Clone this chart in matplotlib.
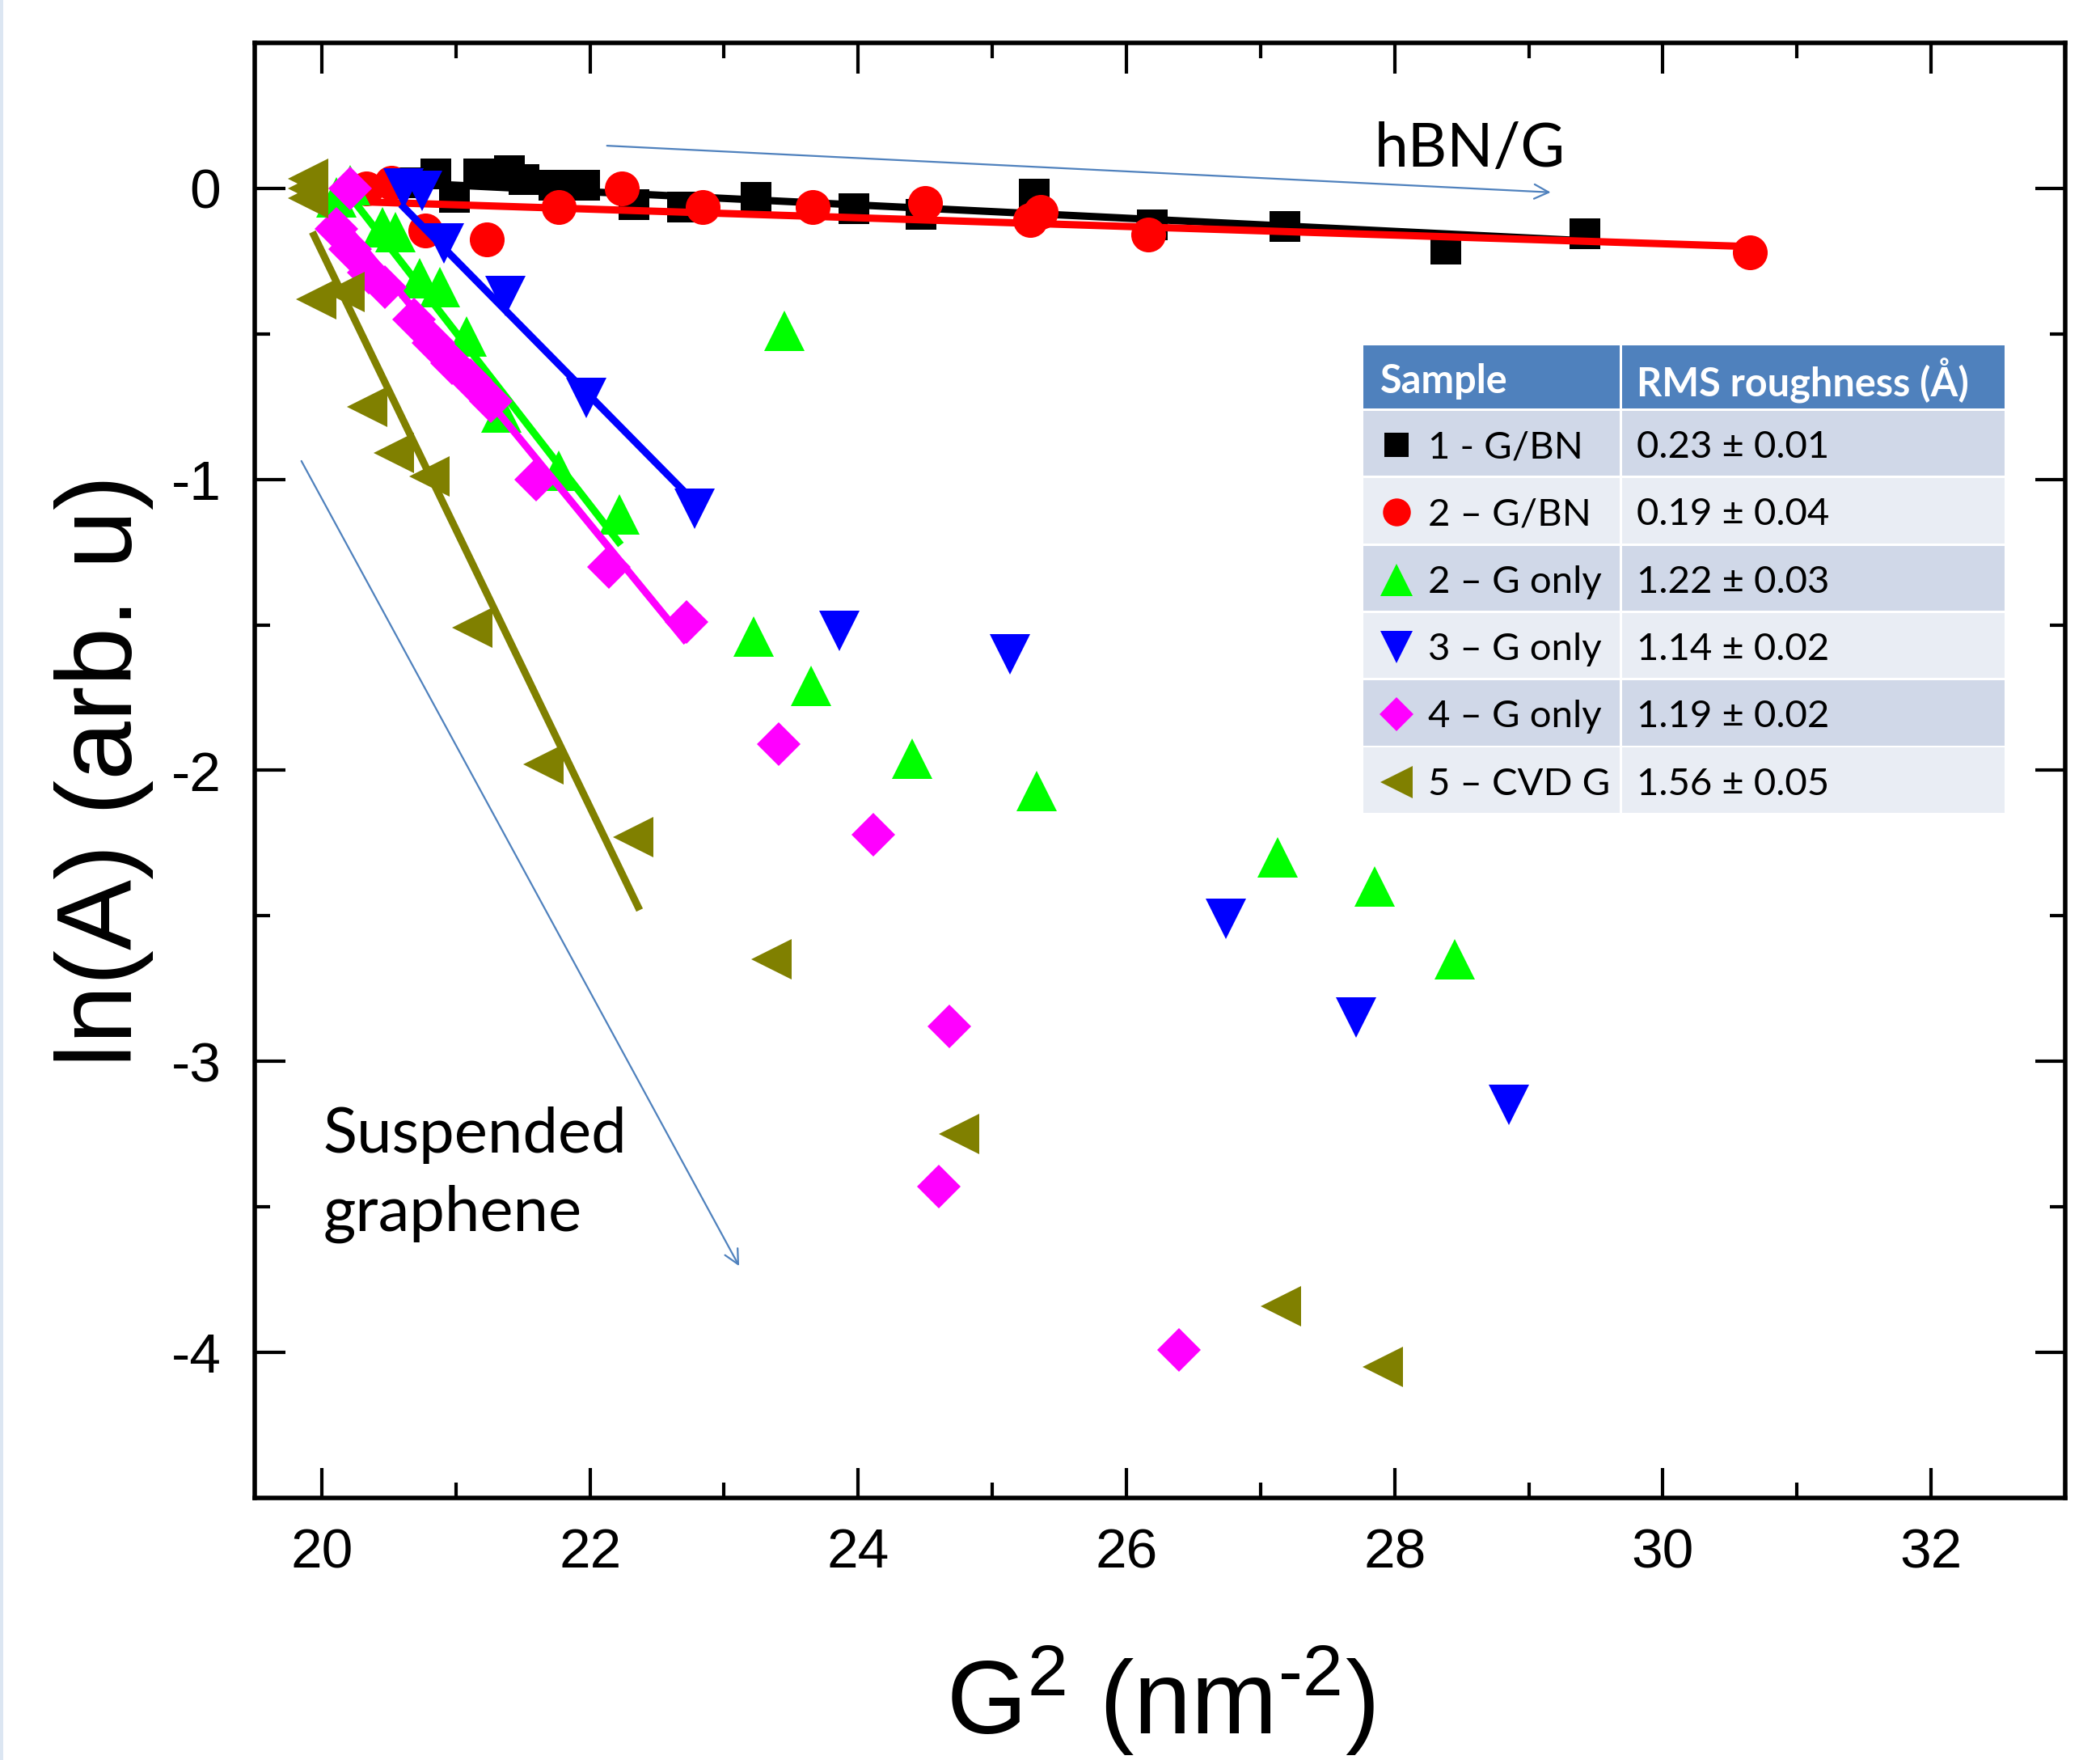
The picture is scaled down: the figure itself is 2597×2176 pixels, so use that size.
import matplotlib
matplotlib.use("Agg")
import matplotlib.pyplot as plt
from matplotlib.lines import Line2D
from matplotlib.patches import Rectangle
from matplotlib.ticker import MultipleLocator

plt.rcParams["font.family"] = ["Liberation Sans", "DejaVu Sans"]
plt.rcParams["axes.unicode_minus"] = False
plt.rcParams["mathtext.fontset"] = "custom"
plt.rcParams["mathtext.rm"] = "Liberation Sans"
plt.rcParams["mathtext.it"] = "Liberation Sans:italic"
plt.rcParams["mathtext.default"] = "rm"

# ---- data: G^2 (nm^-2) vs ln(A) ----
g_bn1_x = [20.63, 20.85, 20.99, 21.17, 21.40, 21.51, 21.73, 21.96, 22.33, 22.69, 23.24,
           23.97, 24.47, 25.31, 26.19, 27.18, 28.38, 29.42]
g_bn1_y = [0.02, 0.05, -0.03, 0.05, 0.06, 0.03, 0.01, 0.01, -0.055, -0.065, -0.03,
           -0.07, -0.09, -0.02, -0.125, -0.13, -0.21, -0.155]
g_bn2_x = [20.33, 20.52, 20.77, 21.23, 21.77, 22.24, 22.84, 23.66, 24.50, 25.28, 25.36,
           26.16, 30.65]
g_bn2_y = [0.0, 0.02, -0.145, -0.175, -0.065, 0.0, -0.065, -0.065, -0.05, -0.11, -0.08,
           -0.16, -0.22]
g2_x = [20.11, 20.21, 20.45, 20.55, 20.73, 20.88, 21.08, 21.34, 21.77, 22.22, 23.45,
        23.22, 23.65, 24.40, 25.33, 27.13, 27.85, 28.45]
g2_y = [-0.03, 0.01, -0.135, -0.15, -0.31, -0.34, -0.51, -0.77, -0.97, -1.12, -0.49,
        -1.54, -1.71, -1.96, -2.07, -2.30, -2.40, -2.65]
g3_x = [20.61, 20.75, 20.91, 21.37, 21.97, 22.78, 23.86, 25.13, 26.74, 27.71, 28.85]
g3_y = [0.0, -0.01, -0.19, -0.37, -0.72, -1.10, -1.52, -1.60, -2.51, -2.85, -3.15]
g4_x = [20.21, 20.11, 20.21, 20.35, 20.47, 20.69, 20.83, 20.97, 21.11, 21.26, 21.60,
        22.14, 22.72, 23.41, 24.11, 24.68, 24.60, 26.39]
g4_y = [0.0, -0.14, -0.21, -0.29, -0.34, -0.45, -0.53, -0.60, -0.66, -0.73, -1.0,
        -1.30, -1.49, -1.91, -2.22, -2.88, -3.43, -3.99]
cvd_x = [19.90, 19.90, 19.90, 19.96, 20.17, 20.34, 20.54, 20.80, 21.12, 21.65, 22.32,
         23.35, 24.75, 27.15, 27.91]
cvd_y = [0.033, 0.0, -0.033, -0.38, -0.355, -0.75, -0.91, -0.99, -1.51, -1.98, -2.23,
         -2.65, -3.25, -3.84, -4.05]

# linear fits (end points)
fit_bn1 = ([20.60, 29.42], [0.02, -0.18])
fit_bn2 = ([20.23, 30.65], [-0.045, -0.20])
fit_g2 = ([20.20, 22.23], [-0.02, -1.225])
fit_g3 = ([20.59, 22.78], [-0.055, -1.078])
fit_g4 = ([20.10, 22.72], [-0.085, -1.56])
fit_cvd = ([19.93, 22.37], [-0.15, -2.48])

table_labels = ["1 - G/BN", "2 \u2013 G/BN", "2 \u2013 G only", "3 \u2013 G only",
                "4 \u2013 G only", "5 \u2013 CVD G"]
table_values = ["0.23 \u00b1 0.01", "0.19 \u00b1 0.04", "1.22 \u00b1 0.03",
                "1.14 \u00b1 0.02", "1.19 \u00b1 0.02", "1.56 \u00b1 0.05"]

hbn_arrow = ([22.11, 29.18], [0.147, -0.014])
susp_arrow = ([19.84, 23.12], [-0.93, -3.71])

series = [
    (g_bn1_x, g_bn1_y, fit_bn1, "s", 27, "#000000"),
    (g_bn2_x, g_bn2_y, fit_bn2, "o", 31, "#ff0000"),
    (g2_x, g2_y, fit_g2, "^", 36, "#00ff00"),
    (g3_x, g3_y, fit_g3, "v", 36, "#0000ff"),
    (g4_x, g4_y, fit_g4, "D", 27, "#ff00ff"),
    (cvd_x, cvd_y, fit_cvd, "<", 36, "#808000"),
]

W, H = 2597, 2176
fig = plt.figure(figsize=(W / 100, H / 100), dpi=100)
ax = fig.add_axes([315 / W, 1 - 1852 / H, (2554 - 315) / W, (1852 - 53) / H])

for i, (x, y, fit, m, ms, c) in enumerate(series):
    ax.plot(x, y, ls="none", marker=m, ms=ms, color=c, mew=0, zorder=3 + 2 * i)
    ax.plot(fit[0], fit[1], color=c, lw=6.5, solid_capstyle="butt", zorder=4 + 2 * i)

# arrows and annotations
arrow_kw = dict(arrowstyle="->", color="#4f81bd", lw=1.6, mutation_scale=32)
ax.annotate("", xy=(hbn_arrow[0][1], hbn_arrow[1][1]),
            xytext=(hbn_arrow[0][0], hbn_arrow[1][0]), arrowprops=arrow_kw)
ax.annotate("", xy=(susp_arrow[0][1], susp_arrow[1][1]),
            xytext=(susp_arrow[0][0], susp_arrow[1][0]), arrowprops=arrow_kw)
ax.text(27.85, 0.135, "hBN/G", fontsize=54, family="Lato", ha="left", va="center")
ax.text(20.01, -3.39, "Suspended\ngraphene", fontsize=56, family="Lato",
        ha="left", va="center", linespacing=1.45)

ax.set_xlim(19.5, 33.0)
ax.set_ylim(-4.5, 0.5)
ax.xaxis.set_major_locator(MultipleLocator(2))
ax.xaxis.set_minor_locator(MultipleLocator(1))
ax.yaxis.set_major_locator(MultipleLocator(1))
ax.yaxis.set_minor_locator(MultipleLocator(0.5))
ax.tick_params(which="both", direction="in", top=True, right=True, width=3)
ax.tick_params(which="major", length=27, labelsize=50)
ax.tick_params(which="minor", length=14)
ax.tick_params(axis="x", which="major", pad=26)
ax.tick_params(axis="y", which="major", pad=30)
for sp in ax.spines.values():
    sp.set_linewidth(4)

ax.set_xlabel(r"G$^{2}$ (nm$^{\text{-}2}$)", fontsize=92)
ax.set_ylabel("ln(A) (arb. u)", fontsize=94)
ax.xaxis.set_label_coords(0.5, -0.10)
ax.yaxis.set_label_coords(-0.056, 0.5)

# ---- table (figure pixel coordinates) ----
def fxp(px):
    return px / W


def fyp(py):
    return 1 - py / H


col_l, col_m, col_r = 1686, 2004, 2479
gap = 3
head_top, head_bot = 427, 505
row_h = 83.3
txt_dy = 5


def cell(x0, x1, y0, y1, color):
    fig.add_artist(Rectangle((fxp(x0), fyp(y1)), fxp(x1) - fxp(x0), fyp(y0) - fyp(y1),
                             transform=fig.transFigure, facecolor=color,
                             edgecolor="none", zorder=20))


cell(col_l, col_m - gap / 2, head_top, head_bot, "#4f81bd")
cell(col_m + gap / 2, col_r, head_top, head_bot, "#4f81bd")
hy = fyp((head_top + head_bot) / 2 + txt_dy)
fig.text(fxp(1707), hy, "Sample", fontsize=35, family="Lato", weight="bold",
         color="white", ha="left", va="center", zorder=21)
fig.text(fxp(2024), hy, "RMS roughness (\u00c5)", fontsize=35, family="Lato",
         weight="bold", color="white", ha="left", va="center", zorder=21)

for i, (lab, val) in enumerate(zip(table_labels, table_values)):
    y0 = head_bot + gap + i * row_h
    y1 = y0 + row_h - gap
    color = "#d0d8e8" if i % 2 == 0 else "#e9edf4"
    cell(col_l, col_m - gap / 2, y0, y1, color)
    cell(col_m + gap / 2, col_r, y0, y1, color)
    yc = fyp((y0 + y1) / 2 + txt_dy)
    _, _, _, m, ms, c = series[i]
    fig.add_artist(Line2D([fxp(1727)], [fyp((y0 + y1) / 2 + 2)], transform=fig.transFigure,
                          ls="none", marker=m, ms=ms * 0.8, color=c, mew=0, zorder=22))
    fig.text(fxp(1766), yc, lab, fontsize=34, family="Lato", ha="left",
             va="center", zorder=22)
    fig.text(fxp(2024), yc, val, fontsize=34, family="Lato", ha="left",
             va="center", zorder=22)

# faint blue strip on the left edge
fig.add_artist(Rectangle((0, 0), 4 / W, 1, transform=fig.transFigure,
                         facecolor="#dce6f2", edgecolor="none"))

fig.savefig("out.png", dpi=100)
